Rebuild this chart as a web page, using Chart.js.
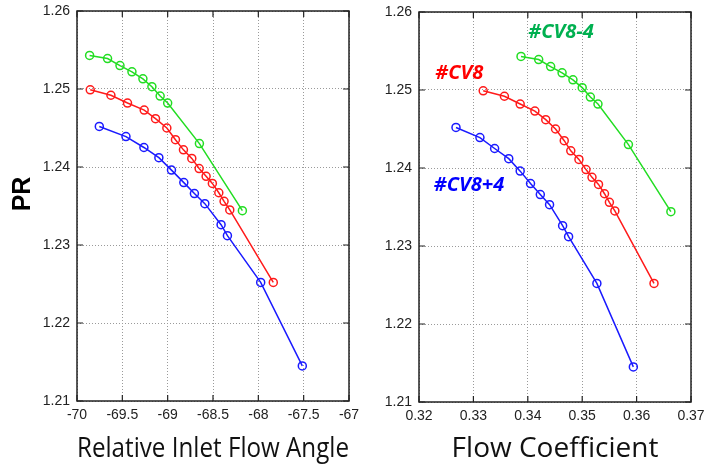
<!DOCTYPE html>
<html>
<head>
<meta charset="utf-8">
<script src="https://cdn.jsdelivr.net/npm/chart.js@4"></script>
<style>
  body { margin: 0; background: #fff; }
  #wrap { position: relative; width: 707px; height: 465px; }
  canvas { position: absolute; top: 0; }
  #angleChart { left: 0; }
  #flowChart { left: 360px; }
</style>
</head>
<body>
<div id="wrap">
  <canvas id="angleChart" width="360" height="465"></canvas>
  <canvas id="flowChart" width="347" height="465"></canvas>
</div>
<script>
// pressure ratio, shared by both panels
const prMinus4 = [1.2543, 1.2539, 1.2530, 1.2522, 1.2513, 1.2503, 1.2491, 1.2482, 1.2430, 1.2344];
const prCV8 = [1.2499, 1.2492, 1.2482, 1.2473, 1.2462, 1.2450, 1.2435, 1.2422, 1.2411, 1.2398,
               1.2388, 1.2379, 1.2367, 1.2356, 1.2345, 1.2252];
const prPlus4 = [1.2452, 1.2439, 1.2425, 1.2412, 1.2396, 1.2380, 1.2366, 1.2353, 1.2326, 1.2312,
                 1.2252, 1.2145];

// relative inlet flow angle (left)
const angleMinus4 = [-69.861, -69.663, -69.526, -69.394, -69.273, -69.174, -69.083, -69.000, -68.650, -68.176];
const angleCV8 = [-69.854, -69.626, -69.443, -69.259, -69.134, -69.009, -68.914, -68.826, -68.734, -68.653,
                  -68.576, -68.507, -68.436, -68.378, -68.315, -67.835];
const anglePlus4 = [-69.754, -69.460, -69.262, -69.097, -68.958, -68.822, -68.705, -68.590, -68.411, -68.341,
                    -67.974, -67.515];

// flow coefficient (right)
const flowMinus4 = [0.33875, 0.3420, 0.3442, 0.3463, 0.3483, 0.3500, 0.3515, 0.3529, 0.3585, 0.3663];
const flowCV8 = [0.3318, 0.3357, 0.3386, 0.3413, 0.3433, 0.3451, 0.3467, 0.3479, 0.3494, 0.3507,
                 0.3518, 0.3530, 0.3541, 0.3550, 0.3560, 0.3632];
const flowPlus4 = [0.3268, 0.3312, 0.3339, 0.3365, 0.3386, 0.3405, 0.3423, 0.3440, 0.3464, 0.3475,
                   0.3527, 0.3594];

const caseNames = ["#CV8-4", "#CV8", "#CV8+4"];
const lineColors = ["#22dd22", "#ff1a1a", "#1a1aff"];
const labelColors = ["#00b050", "#ff0000", "#0000ff"];

const pairs = (xs, ys) => xs.map((x, i) => ({ x: x, y: ys[i] }));

function makeDatasets(xSeries) {
    const ySeries = [prMinus4, prCV8, prPlus4];
    return xSeries.map((xs, i) => ({
        label: caseNames[i],
        data: pairs(xs, ySeries[i]),
        showLine: true,
        borderColor: lineColors[i],
        backgroundColor: "rgba(0,0,0,0)",
        borderWidth: 1.5,
        pointRadius: 4,
        pointBorderWidth: 1.5,
        pointBorderColor: lineColors[i],
        pointBackgroundColor: "rgba(0,0,0,0)"
    }));
}

// gnuplot-like frame with inward ticks
const framePlugin = {
    id: "frame",
    afterDatasetsDraw(chart) {
        const { ctx, chartArea: a, scales } = chart;
        ctx.save();
        ctx.strokeStyle = "#222";
        ctx.lineWidth = 1.5;
        ctx.strokeRect(a.left, a.top, a.right - a.left, a.bottom - a.top);
        ctx.lineWidth = 1.2;
        ctx.beginPath();
        scales.x.ticks.forEach(t => {
            const px = scales.x.getPixelForValue(t.value);
            ctx.moveTo(px, a.top); ctx.lineTo(px, a.top + 6);
            ctx.moveTo(px, a.bottom); ctx.lineTo(px, a.bottom - 6);
        });
        scales.y.ticks.forEach(t => {
            const py = scales.y.getPixelForValue(t.value);
            ctx.moveTo(a.left, py); ctx.lineTo(a.left + 6, py);
            ctx.moveTo(a.right, py); ctx.lineTo(a.right - 6, py);
        });
        ctx.stroke();
        ctx.restore();
    }
};

// "PR" on the far left, a bit above the panel's middle
const prLabelPlugin = {
    id: "prLabel",
    afterDraw(chart) {
        const ctx = chart.ctx;
        ctx.save();
        ctx.translate(23, 194);
        ctx.rotate(-Math.PI / 2);
        ctx.font = "bold 25px 'Liberation Sans', Arial";
        ctx.fillStyle = "#000";
        ctx.textAlign = "center";
        ctx.textBaseline = "middle";
        ctx.fillText("PR", 0, 0);
        ctx.restore();
    }
};

// case names written next to the curves on the right panel
const caseLabelPlugin = {
    id: "caseLabels",
    afterDatasetsDraw(chart) {
        const { ctx, scales } = chart;
        const spots = [[0.3461, 1.2574], [0.3274, 1.2521], [0.3292, 1.2378]];
        ctx.save();
        ctx.font = "italic bold 20px 'Open Sans'";
        ctx.textAlign = "center";
        ctx.textBaseline = "middle";
        spots.forEach((s, i) => {
            ctx.fillStyle = labelColors[i];
            ctx.fillText(caseNames[i], scales.x.getPixelForValue(s[0]), scales.y.getPixelForValue(s[1]));
        });
        ctx.restore();
    }
};

const tickFont = { family: "'Liberation Sans', Arial", size: 14 };
const gridStyle = { color: "#9a9a9a", lineWidth: 1, drawTicks: false };
const borderStyle = { display: false, dash: [1, 2] };

function makeOptions(cfg) {
    return {
        responsive: false,
        animation: false,
        layout: { padding: cfg.padding },
        plugins: { legend: { display: false }, tooltip: { enabled: false } },
        scales: {
            x: {
                type: "linear",
                min: cfg.xMin, max: cfg.xMax,
                border: borderStyle,
                grid: gridStyle,
                ticks: {
                    stepSize: cfg.xStep, color: "#222", font: tickFont, padding: 6,
                    maxRotation: 0, autoSkip: false,
                    callback: cfg.xFormat
                },
                title: {
                    display: true, text: cfg.xTitle, color: "#111",
                    font: { family: "'Open Sans'", size: 28 },
                    padding: { top: 0, bottom: -1 }
                },
                afterFit(scale) {
                    scale.height = cfg.xHeight;
                    scale.paddingLeft = 0;
                    scale.paddingRight = 0;
                }
            },
            y: {
                min: 1.21, max: 1.26,
                border: borderStyle,
                grid: gridStyle,
                ticks: {
                    stepSize: 0.01, color: "#222", font: tickFont, padding: 7,
                    callback: v => v.toFixed(2)
                },
                afterFit(scale) {
                    scale.width = cfg.yWidth;
                    scale.paddingTop = 0;
                    scale.paddingBottom = 0;
                }
            }
        }
    };
}

new Chart(document.getElementById("angleChart"), {
    type: "scatter",
    data: { datasets: makeDatasets([angleMinus4, angleCV8, anglePlus4]) },
    options: makeOptions({
        padding: { top: 11, right: 11, left: 0, bottom: 0 },
        xMin: -70, xMax: -67, xStep: 0.5,
        xFormat: v => String(v),
        xTitle: "Relative Inlet Flow Angle", xHeight: 64,
        yWidth: 77
    }),
    plugins: [framePlugin, prLabelPlugin]
});

new Chart(document.getElementById("flowChart"), {
    type: "scatter",
    data: { datasets: makeDatasets([flowMinus4, flowCV8, flowPlus4]) },
    options: makeOptions({
        padding: { top: 12, right: 16, left: 0, bottom: 0 },
        xMin: 0.32, xMax: 0.37, xStep: 0.01,
        xFormat: v => v.toFixed(2),
        xTitle: "Flow Coefficient", xHeight: 63,
        yWidth: 59
    }),
    plugins: [framePlugin, caseLabelPlugin]
});
</script>
</body>
</html>
